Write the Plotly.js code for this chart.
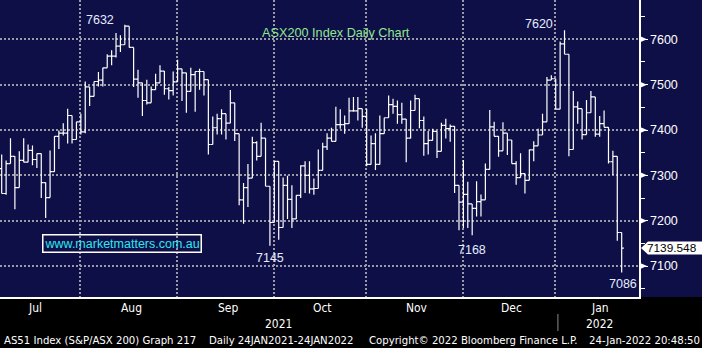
<!DOCTYPE html>
<html><head><meta charset="utf-8">
<script src="https://cdn.plot.ly/plotly-3.0.1.min.js"></script>
<style>html,body{margin:0;padding:0;background:#000;}#chart{width:702px;height:348px;}</style>
</head><body><div id="chart"></div>
<script>
// ---------------- DATA ----------------
const firstDate = '2021-07-06';
const lastDate  = '2022-01-24';
const calStart  = '2021-07-01';
const calEnd    = '2022-01-31';
const holidays  = ['2021-12-27','2021-12-28','2022-01-03','2022-01-26'];
const monthNames = ['Jul','Aug','Sep','Oct','Nov','Dec','Jan'];
const yearLabels = ['2021','2022'];
const yTicks = [7100,7200,7300,7400,7500,7600];

const openVals = [7315,7260,7326,7342,7273,7333,7329,7355,7335,7348,
 7284,7251,7308,7386,7393,7393,7432,7379,7418,7396,
 7495,7474,7507,7510,7537,7563,7563,7585,7588,7629,
 7582,7512,7504,7465,7460,7489,7504,7530,7491,7487,
 7506,7535,7526,7485,7522,7529,7529,7511,7368,7405,
 7425,7436,7415,7460,7392,7246,7273,7294,7372,7342,
 7382,7276,7196,7331,7185,7278,7247,7204,7256,7321,
 7300,7270,7271,7311,7363,7382,7375,7412,7412,7414,
 7442,7442,7447,7430,7324,7370,7324,7392,7427,7456,
 7452,7434,7424,7382,7443,7469,7421,7370,7377,7397,
 7353,7410,7403,7408,7278,7241,7258,7237,7227,7242,
 7246,7313,7407,7386,7354,7393,7378,7326,7295,7304,
 7289,7356,7365,7389,7418,7510,7513,7446,7590,7567,
 7357,7451,7447,7390,7438,7473,7391,7414,7406,7330,
 7342,7174];
const highVals = [7346,7333,7382,7342,7353,7382,7368,7366,7348,7348,
 7284,7355,7386,7399,7415,7447,7432,7418,7436,7507,
 7495,7507,7528,7537,7567,7576,7614,7609,7632,7629,
 7582,7533,7504,7511,7496,7524,7543,7530,7495,7529,
 7555,7535,7526,7537,7529,7535,7529,7511,7430,7436,
 7446,7436,7488,7460,7392,7283,7325,7385,7375,7416,
 7382,7276,7331,7331,7295,7299,7278,7256,7322,7331,
 7331,7293,7357,7372,7393,7405,7451,7446,7432,7471,
 7473,7473,7447,7447,7388,7393,7432,7427,7476,7469,
 7465,7460,7424,7465,7478,7469,7430,7398,7403,7397,
 7416,7425,7412,7408,7278,7334,7286,7237,7287,7258,
 7326,7444,7418,7386,7417,7393,7378,7331,7349,7304,
 7357,7375,7403,7436,7517,7521,7513,7595,7620,7567,
 7486,7463,7447,7466,7486,7473,7431,7443,7406,7354,
 7342,7174];
const lowVals = [7260,7257,7326,7225,7273,7329,7329,7322,7316,7250,
 7206,7251,7308,7358,7388,7370,7370,7379,7390,7393,
 7453,7474,7496,7496,7537,7543,7560,7572,7588,7582,
 7495,7471,7431,7456,7460,7489,7504,7478,7467,7476,
 7506,7464,7438,7485,7440,7489,7476,7346,7368,7390,
 7390,7379,7415,7376,7234,7193,7230,7294,7333,7342,
 7276,7145,7196,7158,7185,7204,7184,7204,7250,7261,
 7260,7257,7271,7311,7356,7375,7375,7403,7392,7414,
 7440,7421,7405,7320,7324,7312,7324,7392,7427,7436,
 7414,7414,7329,7381,7443,7404,7343,7346,7377,7338,
 7353,7381,7374,7261,7179,7184,7184,7168,7209,7209,
 7246,7313,7386,7341,7354,7345,7326,7279,7295,7260,
 7289,7331,7365,7389,7418,7510,7446,7446,7567,7342,
 7357,7414,7379,7390,7438,7385,7385,7406,7326,7301,
 7156,7086];
const closeVals = [7260,7326,7342,7273,7333,7329,7355,7335,7348,7284,
 7251,7308,7386,7393,7393,7432,7379,7418,7396,7495,
 7474,7507,7510,7537,7563,7563,7585,7588,7629,7582,
 7512,7504,7465,7460,7489,7504,7530,7491,7487,7506,
 7535,7526,7485,7522,7529,7529,7511,7368,7405,7425,
 7436,7415,7460,7392,7246,7273,7294,7372,7342,7382,
 7276,7196,7331,7185,7278,7247,7204,7256,7321,7300,
 7270,7271,7311,7363,7382,7375,7412,7412,7414,7442,
 7442,7447,7430,7324,7370,7324,7392,7427,7456,7452,
 7434,7424,7382,7443,7469,7421,7370,7377,7397,7353,
 7410,7403,7408,7278,7241,7258,7237,7227,7242,7246,
 7313,7407,7386,7354,7393,7378,7326,7295,7304,7289,
 7356,7365,7389,7418,7510,7513,7446,7590,7567,7357,
 7451,7447,7390,7438,7473,7391,7414,7406,7330,7342,
 7174,7139.548];

const titleText = 'ASX200 Index Daily Chart';
const siteText = 'www.marketmatters.com.au';
const footerTexts = ['AS51 Index (S&P/ASX 200) Graph 217','Daily 24JAN2021-24JAN2022',
  'Copyright\u00A9 2022 Bloomberg Finance L.P.','24-Jan-2022 20:48:50'];

// ---------------- STYLE / LAYOUT CONSTANTS ----------------
const W = 702, H = 348, PW = 639, PH = 297;
const NAVY = '#0f0f47', GRID = '#9a9aa6', WHITE = '#ffffff';
const footerX = [2, 207, 367, 587];
const footerW = [194, 144, 208, 111];
const monthY = 308, yearY = 324, footY = 340;

// ---------------- CALENDAR ----------------
function iso(d){ return d.toISOString().slice(0,10); }
function tradingDays(from, to, hol){
  const out=[]; const d=new Date(from+'T00:00:00Z'); const end=new Date(to+'T00:00:00Z');
  while(d<=end){ const wd=d.getUTCDay(); const s=iso(d);
    if(wd!==0 && wd!==6 && !hol.includes(s)) out.push(s);
    d.setUTCDate(d.getUTCDate()+1); }
  return out;
}
const cal = tradingDays(calStart, calEnd, holidays);
const i0 = cal.indexOf(firstDate);
const dates = cal.slice(i0, cal.indexOf(lastDate)+1);
const xIdx = dates.map((_,i)=>i);
const monthStarts = [];
cal.forEach((s,k)=>{ if(k===0 || s.slice(0,7)!==cal[k-1].slice(0,7)) monthStarts.push(k-i0); });
const monthEnd = cal.length - i0;
const gridVals = monthStarts.slice(1).map(m=>m-1.1);
const bounds = monthStarts.map(m=>m-0.5).concat([monthEnd-0.5]);
const labelPos = monthStarts.map((m,j)=>(bounds[j]+bounds[j+1])/2);

const pxPerBar = 4.397, firstBarPx = 1.7;
const x0 = -firstBarPx/pxPerBar, x1 = x0 + PW/pxPerBar;
const yPer = 0.4535, y7600 = 39.3;
const yTop = 7600 + y7600/yPer, yBot = 7600 - (PH-y7600)/yPer;

// ---------------- FONTS ----------------
const ctx = document.createElement('canvas').getContext('2d');
function hasFont(f){ ctx.font='40px monospace'; const a=ctx.measureText('AS51 Index Graph 217').width;
  ctx.font='40px "'+f+'", monospace'; return Math.abs(ctx.measureText('AS51 Index Graph 217').width-a)>0.5; }
const NARROW = hasFont('Liberation Sans Narrow') ? 'Liberation Sans Narrow' :
               (hasFont('DejaVu Sans Condensed') ? 'DejaVu Sans Condensed' : 'Liberation Sans');
function fit(text, fam, w){ ctx.font='100px "'+fam+'"'; return 100*w/ctx.measureText(text).width; }
const footSize = footerTexts.map((t,i)=>fit(t,NARROW,footerW[i])).reduce((a,b)=>a+b,0)/footerTexts.length;
const monthSize = fit('Aug', NARROW, 21);
const yearSize = monthSize;
const SANS = 'Liberation Sans, Arial, sans-serif';

// ---------------- TRACE ----------------
const trace = {
  type:'ohlc', x:xIdx, open:openVals, high:highVals, low:lowVals, close:closeVals,
  customdata: dates, tickwidth:0.5, hoverinfo:'skip', showlegend:false,
  increasing:{line:{color:WHITE, width:1.2}}, decreasing:{line:{color:WHITE, width:1.2}}
};

// ---------------- ANNOTATIONS ----------------
function argExt(arr, a, b, isMax){ let k=a; for(let i=a;i<b;i++){ if(isMax? arr[i]>arr[k] : arr[i]<arr[k]) k=i; } return k; }
const extremes = [
  {k:argExt(highVals,0,70,true),  src:highVals, dx:-25, dy:5},
  {k:argExt(lowVals,40,80,false), src:lowVals,  dx:0,   dy:-12},
  {k:argExt(lowVals,90,120,false),src:lowVals,  dx:0,   dy:-15},
  {k:argExt(highVals,100,142,true),src:highVals,dx:-26, dy:6},
  {k:argExt(lowVals,130,142,false),src:lowVals, dx:1,   dy:-12}
];
const ann = [];
extremes.forEach(e=>ann.push({xref:'x', yref:'y', x:e.k, y:e.src[e.k], text:String(Math.round(e.src[e.k])),
  showarrow:false, xshift:e.dx, yshift:e.dy, xanchor:'center', yanchor:'middle',
  font:{family:SANS, size:12.5, color:'#e4ecff'}}));
ann.push({xref:'paper', yref:'paper', x:335.5/PW, y:1-33/PH, text:titleText, showarrow:false,
  xanchor:'center', yanchor:'middle', font:{family:SANS, size:12.7, color:'#8fe88f'}});
ann.push({xref:'paper', yref:'paper', x:122/PW, y:1-243.5/PH, text:siteText, showarrow:false,
  xanchor:'center', yanchor:'middle', bordercolor:WHITE, borderwidth:1.5, borderpad:1,
  font:{family:SANS, size:12.5, color:'#2ee6f2'}});
monthNames.forEach((m,j)=>ann.push({xref:'x', yref:'paper', x:labelPos[j], y:-(monthY-PH)/PH, text:m,
  showarrow:false, xanchor:'center', yanchor:'middle', font:{family:NARROW, size:monthSize, color:WHITE}}));
const janB = bounds[6];
const yearPos = [(x0+janB)/2, labelPos[6]];
yearLabels.forEach((t,j)=>ann.push({xref:'x', yref:'paper', x:yearPos[j], y:-(yearY-PH)/PH, text:t,
  showarrow:false, xanchor:'center', yanchor:'middle', font:{family:NARROW, size:yearSize, color:WHITE}}));
footerTexts.forEach((t,j)=>ann.push({xref:'paper', yref:'paper', x:footerX[j]/PW, y:-(footY-PH)/PH, text:t,
  showarrow:false, xanchor:'left', yanchor:'middle', font:{family:NARROW, size:footSize, color:WHITE}}));
const lastClose = closeVals[closeVals.length-1];
ann.push({xref:'paper', yref:'y', x:1, y:lastClose, xshift:7, text:lastClose.toFixed(3), showarrow:false,
  xanchor:'left', yanchor:'middle', borderpad:0, font:{family:SANS, size:11.8, color:'#000'}});

// ---------------- SHAPES ----------------
const shapes = [
  {type:'rect', xref:'paper', yref:'paper', x0:0, x1:W/PW, y0:0, y1:1, fillcolor:NAVY, line:{width:0}, layer:'below'},
  {type:'line', xref:'x', yref:'paper', x0:janB, x1:janB, y0:-(314-PH)/PH, y1:-(331-PH)/PH, line:{color:'#8a8a8a', width:1}}
];
yTicks.forEach(v=>shapes.push({type:'path', xref:'paper', yref:'y', xsizemode:'pixel', ysizemode:'pixel',
  xanchor:1, yanchor:v, path:'M0,3.5 L8,0 L0,-3.5 Z', fillcolor:WHITE, line:{width:0}}));
shapes.push({type:'path', xref:'paper', yref:'y', xsizemode:'pixel', ysizemode:'pixel', xanchor:1, yanchor:lastClose,
  path:'M2,0 L9,6.5 L63,6.5 L63,-6.5 L9,-6.5 Z', fillcolor:WHITE, line:{width:0}});

const layout = {
  width:W, height:H, margin:{l:0, r:W-PW, t:0, b:H-PH, pad:0},
  paper_bgcolor:'#000000', plot_bgcolor:NAVY, showlegend:false, hovermode:false,
  xaxis:{range:[x0,x1], tickmode:'array', tickvals:gridVals, showticklabels:false, ticks:'',
    showgrid:true, gridcolor:GRID, gridwidth:2, griddash:'2px,2px', zeroline:false,
    showline:true, linecolor:WHITE, linewidth:2, rangeslider:{visible:false}, fixedrange:true},
  yaxis:{side:'right', range:[yBot,yTop], tickmode:'array', tickvals:yTicks, ticks:'outside', ticklen:7,
    tickcolor:WHITE, tickwidth:1, showgrid:true, gridcolor:GRID, gridwidth:2, griddash:'2px,2px',
    zeroline:false, showline:true, linecolor:WHITE, linewidth:1.5, fixedrange:true,
    tickfont:{family:SANS, size:12.5, color:WHITE},
    minor:{tickmode:'linear', tick0:7000, dtick:50, ticks:'outside', ticklen:4, tickcolor:WHITE, showgrid:false}},
  annotations:ann, shapes:shapes
};
Plotly.newPlot('chart', [trace], layout, {staticPlot:true, displayModeBar:false});
</script></body></html>
